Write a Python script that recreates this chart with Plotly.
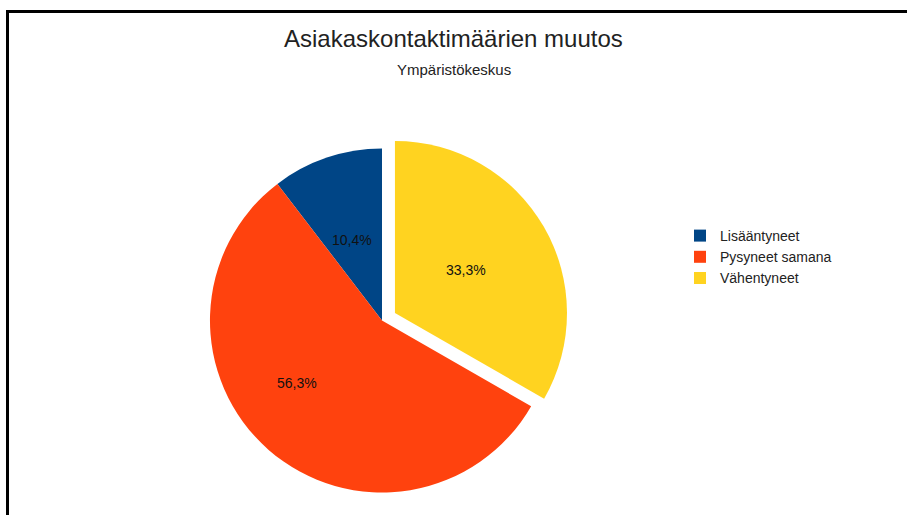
import plotly.graph_objects as go

# Customer contact volume change, environment centre
categories = ["Lisääntyneet", "Pysyneet samana", "Vähentyneet"]
shares = [10.4, 56.3, 33.3]
colors = ["#004586", "#ff420e", "#ffd320"]
pulls = [0, 0, 0.087]

title_text = "Asiakaskontaktimäärien muutos"
subtitle_text = "Ympäristökeskus"

W, H = 907, 515
cx, cy, side = 382, 320.5, 374  # pie box centre and size in pixels

# where each percentage label sits (pixels from top-left)
label_px = [(352, 240), (297, 383), (466, 270)]

# counterclockwise pies place the first slice clockwise of the start angle,
# so turn the start back by the first slice's sweep to begin it at 12 o'clock
start_rotation = -360 * shares[0] / sum(shares)

fig = go.Figure(
    go.Pie(
        labels=categories,
        values=shares,
        marker=dict(colors=colors, line=dict(width=0)),
        pull=pulls,
        sort=False,
        direction="counterclockwise",
        rotation=start_rotation,
        textinfo="none",
        domain=dict(
            x=[(cx - side / 2) / W, (cx + side / 2) / W],
            y=[1 - (cy + side / 2) / H, 1 - (cy - side / 2) / H],
        ),
        hoverinfo="label+percent",
    )
)

total = sum(shares)
label_notes = [
    dict(text=f"{100 * v / total:.1f}%".replace(".", ","),
         x=px / W, y=1 - py / H, xref="paper", yref="paper",
         showarrow=False, font=dict(size=14, color="#111111"),
         xanchor="center", yanchor="middle")
    for v, (px, py) in zip(shares, label_px)
]

fig.update_layout(
    width=W,
    height=H,
    margin=dict(l=0, r=0, t=0, b=0),
    paper_bgcolor="white",
    plot_bgcolor="white",
    font=dict(family="Liberation Sans, Arial", color="#222222"),
    showlegend=True,
    legend=dict(
        x=680 / W,
        xanchor="left",
        y=1 - 257 / H,
        yanchor="middle",
        font=dict(size=14, color="#222222"),
        bgcolor="rgba(0,0,0,0)",
        itemwidth=30,
    ),
    annotations=[
        dict(text=title_text, x=0.5, y=1 - 39 / H, xref="paper", yref="paper",
             showarrow=False, font=dict(size=24, color="#222222"),
             xanchor="center", yanchor="middle"),
        dict(text=subtitle_text, x=0.5, y=1 - 70 / H, xref="paper", yref="paper",
             showarrow=False, font=dict(size=15, color="#222222"),
             xanchor="center", yanchor="middle"),
    ] + label_notes,
    shapes=[
        dict(type="line", xref="paper", yref="paper", x0=6 / W, x1=1, y0=1 - 11.5 / H, y1=1 - 11.5 / H,
             line=dict(color="black", width=3)),
        dict(type="line", xref="paper", yref="paper", x0=7.5 / W, x1=7.5 / W, y0=0, y1=1 - 10 / H,
             line=dict(color="black", width=3)),
    ],
)

fig.write_html("out.html")
